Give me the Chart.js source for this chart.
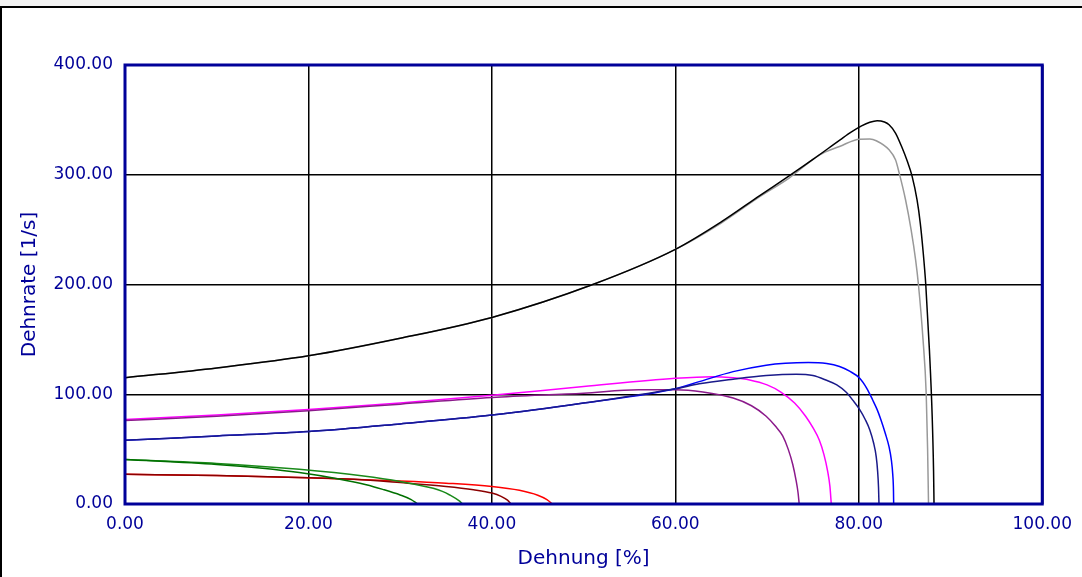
<!DOCTYPE html>
<html><head><meta charset="utf-8">
<script src="https://cdn.jsdelivr.net/npm/chart.js@4/dist/chart.umd.min.js"></script>
<style>
html,body{margin:0;padding:0;background:#fff;width:1082px;height:577px;overflow:hidden}
#band{position:absolute;left:0;top:0;width:1082px;height:6px;background:#f3f3f3}
#frame{position:absolute;left:0;top:6px;width:1082px;height:571px;border-top:2px solid #000;border-left:2px solid #000;box-sizing:border-box}
#wrap{position:absolute;left:0;top:0;width:1082px;height:577px}
</style></head>
<body>
<div id="band"></div><div id="frame"></div>
<div id="wrap"><canvas id="c" width="1082" height="577"></canvas></div>
<script>
// Axis tick values
const xTicks = [0, 20, 40, 60, 80, 100];
const yTicks = [0, 100, 200, 300, 400];

// Series (Dehnung [%] vs Dehnrate [1/s])
const blackX = [0, 10, 20, 30, 40, 51, 60, 65, 69.2, 72.4, 75, 78, 79.2, 80.3, 81.2, 82.0, 82.8, 83.3, 84.0, 84.7, 85.3, 85.8, 86.35, 86.7, 87.0, 87.3, 87.7, 88.0, 88.15, 88.2];
const blackY = [115, 124, 135, 151, 170, 200, 232, 257, 281, 299, 314, 332, 339, 344.5, 347.8, 349.2, 348, 345.5, 338, 325, 312, 299, 277, 256, 231, 200, 140, 80, 30, 0];

const grayX = [0, 10, 20, 30, 40, 51, 60, 65, 69.2, 72.4, 75.7, 77.9, 80.1, 81.2, 81.9, 83.3, 84.0, 84.4, 85.1, 85.7, 86.2, 86.5, 87.0, 87.35, 87.5, 87.6];
const grayY = [115, 124, 135, 151, 170, 200, 232, 256, 280, 297, 318, 325.7, 332.4, 332.5, 331, 322.7, 313.6, 301.7, 277, 250, 222, 200, 150, 100, 50, 0];

const blueX = [0, 10, 20, 30, 40, 50, 60, 62.6, 66.3, 69.9, 72, 74.5, 76.5, 77.9, 79, 80.1, 80.9, 81.5, 82.0, 82.4, 82.9, 83.3, 83.55, 83.7, 83.78, 83.8];
const blueY = [58, 62, 66, 73, 81, 92, 105, 111.5, 120.6, 126.5, 128.3, 129, 128, 125.3, 121, 114.6, 105, 95, 86, 77, 64, 52, 40, 27, 12, 0];

const navyX = [0, 10, 20, 30, 40, 50, 60, 62.6, 66.3, 69.9, 73.2, 75, 76.4, 77.6, 78.6, 79.4, 80.1, 80.7, 81.2, 81.6, 81.9, 82.05, 82.15, 82.2];
const navyY = [58, 62, 66, 73, 81, 92, 105, 109.5, 113.7, 117, 118.2, 117, 113, 108.5, 102, 94, 86, 77, 67.5, 56, 43, 30, 15, 0];

const magentaX = [0, 10, 20, 30, 40, 50, 60, 64, 66.3, 68.1, 70, 71.5, 73, 74.2, 75, 75.7, 76.2, 76.6, 76.85, 77.0];
const magentaY = [77, 81, 86, 92, 99, 107, 114.5, 116, 115, 113, 108.5, 102, 92, 80, 69.5, 58, 45, 30, 16, 0];

const purpleX = [0, 10, 20, 30, 40, 50, 56, 60, 63, 66.3, 68.3, 69.9, 70.9, 71.7, 72.3, 72.8, 73.15, 73.38, 73.5];
const purpleY = [76, 80, 85, 91, 97, 101, 104, 104, 102, 96.5, 89.5, 80, 71, 62, 50, 36, 22, 10, 0];

const greenX = [0, 10, 19, 26, 30, 33.6, 34.6, 35.4, 36.4, 36.8];
const greenY = [40.5, 37, 31.6, 25.5, 20.5, 14.3, 11.5, 8.2, 3, 0];

const darkGreenX = [0, 10, 15, 19, 23, 26.3, 28.1, 30, 31.2, 31.9];
const darkGreenY = [40.5, 36, 32.5, 28.6, 23.2, 17.5, 13.3, 8.2, 4, 0];

const redX = [0, 10, 20, 30, 35, 40, 43, 45, 46, 46.6];
const redY = [27, 26, 24, 21, 19, 16, 12.5, 8, 4, 0];

const darkRedX = [0, 10, 20, 25, 30, 35, 38, 40, 41, 41.7, 42.1];
const darkRedY = [27, 26, 24, 22.5, 19.5, 16, 13, 10, 7, 3.5, 0];

const AXIS_BLUE = '#000099';
const FONT = 'DejaVu Sans';

function pts(xs, ys) { return xs.map((x, i) => ({x: x, y: ys[i]})); }
function ds(xs, ys, color) {
  return {data: pts(xs, ys), borderColor: color, borderWidth: 1.5, pointRadius: 0,
          fill: false, cubicInterpolationMode: 'monotone'};
}

const framePlugin = {
  id: 'framePlugin',
  afterDatasetsDraw(chart) {
    const {ctx, chartArea: a} = chart;
    ctx.save();
    ctx.strokeStyle = AXIS_BLUE;
    ctx.lineWidth = 3;
    ctx.strokeRect(a.left, a.top, a.right - a.left, a.bottom - a.top);
    ctx.restore();
  }
};

new Chart(document.getElementById('c'), {
  type: 'line',
  data: {
    datasets: [
      ds(blackX, blackY, '#000000'),
      ds(grayX, grayY, '#999999'),
      ds(navyX, navyY, '#1a1a8a'),
      ds(blueX, blueY, '#0000ff'),
      ds(purpleX, purpleY, '#8b1a8b'),
      ds(magentaX, magentaY, '#ff00ff'),
      ds(darkGreenX, darkGreenY, '#007000'),
      ds(greenX, greenY, '#1a8a1a'),
      ds(darkRedX, darkRedY, '#8b0000'),
      ds(redX, redY, '#ff0000')
    ]
  },
  options: {
    responsive: false,
    devicePixelRatio: 1,
    animation: false,
    layout: {padding: {top: 65, right: 39, left: 0, bottom: 0}},
    plugins: {legend: {display: false}, tooltip: {enabled: false}},
    scales: {
      x: {
        type: 'linear', min: xTicks[0], max: xTicks[xTicks.length - 1],
        afterBuildTicks: s => { s.ticks = xTicks.map(v => ({value: v})); },
        afterFit: s => { s.height = 73; },
        ticks: {callback: v => Number(v).toFixed(2), color: AXIS_BLUE, font: {family: FONT, size: 17},
                padding: 10, maxRotation: 0, autoSkip: false},
        grid: {color: '#000', lineWidth: 1.5, drawTicks: false},
        border: {display: false},
        title: {display: true, text: 'Dehnung [%]', color: AXIS_BLUE, font: {family: FONT, size: 20},
                padding: {top: 0, bottom: 6}}
      },
      y: {
        type: 'linear', min: yTicks[0], max: yTicks[yTicks.length - 1],
        afterBuildTicks: s => { s.ticks = yTicks.map(v => ({value: v})); },
        afterFit: s => { s.width = 125; },
        ticks: {callback: v => Number(v).toFixed(2), color: AXIS_BLUE, font: {family: FONT, size: 17},
                padding: 12, autoSkip: false},
        grid: {color: '#000', lineWidth: 1.5, drawTicks: false},
        border: {display: false},
        title: {display: true, text: 'Dehnrate [1/s]', color: AXIS_BLUE, font: {family: FONT, size: 20},
                padding: {top: 18, bottom: 0}}
      }
    }
  },
  plugins: [framePlugin]
});
</script>
</body></html>
